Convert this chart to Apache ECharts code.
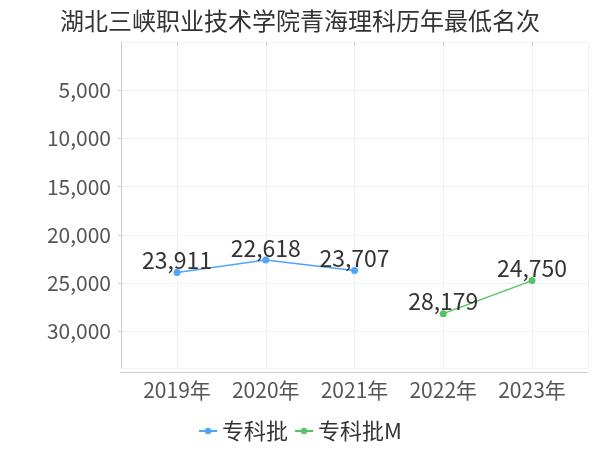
<!DOCTYPE html>
<html>
<head>
<meta charset="utf-8">
<script src="https://cdn.jsdelivr.net/npm/echarts@6/dist/echarts.min.js"></script>
<style>html,body{margin:0;padding:0;background:#fff}#c{width:600px;height:450px}</style>
</head>
<body>
<div id="c"></div>
<script>
var titleText = '湖北三峡职业技术学院青海理科历年最低名次';
var categories = ['2019年', '2020年', '2021年', '2022年', '2023年'];
var seriesNames = ['专科批', '专科批M'];
var valuesA = [23911, 22618, 23707, null, null];
var valuesB = [null, null, null, 28179, 24750];
var colors = ['#4da6f7', '#55c466'];

var allVals = valuesA.concat(valuesB).filter(function (v) { return v != null; });
var yMax = Math.max.apply(null, allVals) * 1.2;
var FONT = '"Noto Sans CJK SC", "Noto Sans", sans-serif';

var chart = echarts.init(document.getElementById('c'));
chart.setOption({
  animation: false,
  textStyle: { fontFamily: FONT },
  title: {
    text: titleText, left: 'center', top: 4,
    textStyle: { fontSize: 24, fontWeight: 'normal', color: '#333', fontFamily: FONT }
  },
  legend: {
    bottom: 3, left: 'center', itemWidth: 18, itemHeight: 8, itemGap: 6,
    textStyle: { fontSize: 22, color: '#333', fontFamily: FONT },
    data: seriesNames
  },
  grid: [
    { left: 121, right: 12, top: 42, bottom: 82 },
    { left: 177, right: 68, top: 42, bottom: 82 }
  ],
  xAxis: [
    {
      gridIndex: 0, type: 'value', min: 0, max: 1, interval: 1,
      axisLine: { show: true, onZero: false, lineStyle: { color: '#ccc' } },
      offset: 4,
      axisTick: { show: false }, axisLabel: { show: false },
      splitLine: { show: true, lineStyle: { color: '#f0f0f0' } }
    },
    {
      gridIndex: 1, type: 'category', boundaryGap: false, data: categories,
      offset: 4,
      axisLine: { show: false },
      axisTick: { show: true, length: 4, lineStyle: { color: '#ccc' } },
      axisLabel: { fontSize: 21, color: '#555', margin: 8, fontFamily: FONT },
      splitLine: { show: true, lineStyle: { color: '#f0f0f0' } }
    }
  ],
  yAxis: [
    {
      gridIndex: 0, type: 'value', inverse: true, min: 0, max: yMax, interval: 5000,
      offset: 4,
      axisLine: { show: true, lineStyle: { color: '#ccc' } },
      axisTick: { show: true, length: 3, lineStyle: { color: '#ccc' } },
      axisLabel: {
        fontSize: 21, color: '#555', margin: 6, fontFamily: FONT,
        showMinLabel: false, showMaxLabel: false,
        formatter: function (v) { return v.toLocaleString('en-US'); }
      },
      splitLine: { show: true, lineStyle: { color: '#f2f2f2' } }
    },
    {
      gridIndex: 1, type: 'value', inverse: true, min: 0, max: yMax,
      show: false, splitLine: { show: false }
    }
  ],
  series: [
    {
      name: seriesNames[0], type: 'line', xAxisIndex: 1, yAxisIndex: 1,
      data: valuesA, color: colors[0], symbol: 'circle', symbolSize: 7,
      lineStyle: { width: 1.5 },
      label: {
        show: true, position: 'top', distance: -3, fontSize: 23, color: '#333', fontFamily: FONT,
        formatter: function (p) { return p.value.toLocaleString('en-US'); }
      }
    },
    {
      name: seriesNames[1], type: 'line', xAxisIndex: 1, yAxisIndex: 1,
      data: valuesB, color: colors[1], symbol: 'circle', symbolSize: 7,
      lineStyle: { width: 1.5 },
      label: {
        show: true, position: 'top', distance: -3, fontSize: 23, color: '#333', fontFamily: FONT,
        formatter: function (p) { return p.value.toLocaleString('en-US'); }
      }
    }
  ]
});
</script>
</body>
</html>
